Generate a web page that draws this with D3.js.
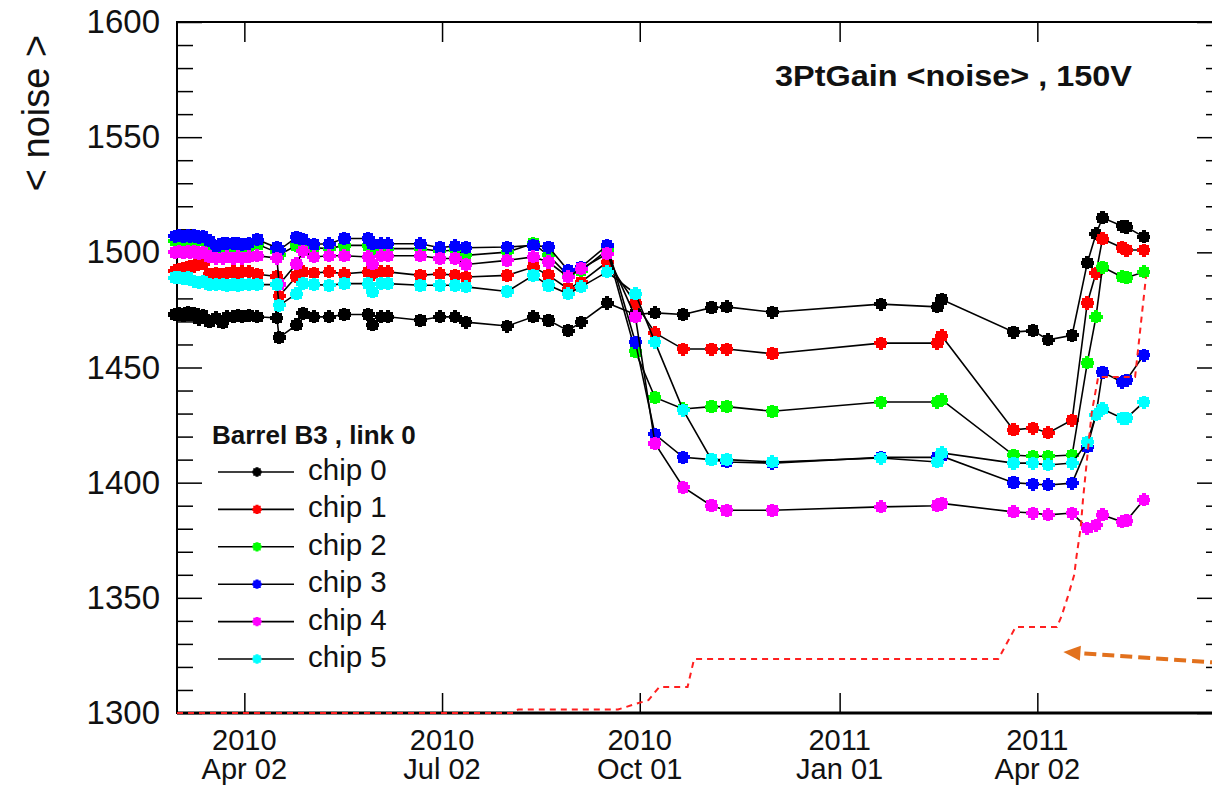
<!DOCTYPE html>
<html>
<head>
<meta charset="utf-8">
<script src="https://cdn.jsdelivr.net/npm/d3@7"></script>
<style>
body { margin: 0; background: #fff; }
svg { display: block; font-family: "Liberation Sans", Arial, sans-serif; }
</style>
</head>
<body>
<div id="chart"></div>
<script>
// measurement dates (shared by all chips)
var dates = ["2010-03-01","2010-03-03","2010-03-05","2010-03-07","2010-03-08","2010-03-10","2010-03-12","2010-03-14",
  "2010-03-17","2010-03-20","2010-03-23","2010-03-25","2010-03-28","2010-03-30","2010-04-01","2010-04-04",
  "2010-04-08","2010-04-17","2010-04-18","2010-04-26","2010-04-29","2010-05-04","2010-05-11","2010-05-18",
  "2010-05-29","2010-05-31","2010-06-04","2010-06-07","2010-06-22","2010-07-01","2010-07-08","2010-07-13",
  "2010-08-01","2010-08-13","2010-08-20","2010-08-29","2010-09-04","2010-09-16","2010-09-29","2010-10-08",
  "2010-10-21","2010-11-03","2010-11-10","2010-12-01","2011-01-20","2011-02-15","2011-02-17","2011-03-22",
  "2011-03-31","2011-04-07","2011-04-18","2011-04-25","2011-04-29","2011-05-02","2011-05-11","2011-05-13","2011-05-21"];

var chip0 = [1473,1473.5,1472.5,1474,1473,1473.5,1471,1472.5,
  1470,1471.5,1469.5,1472,1472,1472.5,1472,1472.5,
  1472,1471.5,1463,1468.5,1473.5,1472,1472,1473,
  1473,1468.5,1472,1472,1470.5,1472,1472,1469.7,
  1468,1472,1470.5,1466,1469.7,1478,1473,1473.7,
  1473,1476,1476.3,1474,1477.5,1476.3,1479.5,1465.4,
  1466,1462,1464,1495.4,1508,1515,1511.4,1511,1506.7];
var chip1 = [1492,1492.5,1493,1493.5,1494,1494,1495,1495,
  1490.5,1491,1490.5,1491,1491.5,1491,1491.5,1491.5,
  1490.5,1489.5,1481,1489.5,1491.5,1491,1491.5,1490.7,
  1491.5,1490.5,1491.5,1491.5,1490,1490.7,1490,1489.3,
  1490,1493.6,1490,1484.2,1487.1,1495.8,1478,1465,
  1458,1458,1458,1456,1460.6,1460.6,1463.7,1422.9,
  1423.7,1421.6,1427.2,1478,1491,1505.8,1502,1501,1501];
var chip2 = [1505,1505,1504.5,1505,1505,1504.5,1505.5,1505,
  1502.5,1502,1502,1502.5,1502,1502.5,1502,1502.5,
  1503.5,1500,1499,1503,1504,1502,1501.6,1503,
  1503,1501.5,1501.5,1501.6,1501.6,1500.5,1501,1498.7,
  1500.1,1503.8,1498.7,1490,1492,1501,1457,1437,
  1432,1433,1433,1431,1435,1435,1435.9,1412,
  1411.5,1411.5,1412,1452,1472,1493.6,1489.3,1489,1491.5];
var chip3 = [1507,1507.5,1507,1507.5,1507,1507.5,1506.5,1507,
  1505,1502.5,1504,1503.7,1504,1504,1503.5,1504,
  1505.5,1502,1501,1506.5,1505.5,1503.5,1503.7,1506,
  1506,1503.7,1503.7,1503.7,1503.7,1502,1502.8,1502,
  1502.3,1503,1502.3,1492.2,1493.6,1503,1461,1421,
  1411,1410,1409,1408.5,1411,1411,1411.5,1400,
  1399.4,1399,1399.8,1415.5,1429.4,1448,1443.7,1444.5,1455.4];
var chip4 = [1500,1500.5,1500,1500.5,1500,1500.5,1499.5,1500,
  1498,1497.5,1497.5,1498,1497.5,1498,1497.5,1498,
  1498.5,1497.5,1486,1495,1500.5,1498,1498.5,1498.5,
  1498,1495,1498.5,1498.5,1498.5,1497.3,1497.3,1494.7,
  1496.5,1498,1495.8,1489.3,1492.9,1499.4,1472,1417,
  1398,1390,1388,1388,1389.5,1390,1391,1387.3,
  1386.8,1386,1386.8,1380.3,1381.6,1386,1383,1383.5,1392.5];
var chip5 = [1489,1489,1488.5,1489,1488,1487.5,1487,1487.5,
  1486,1486,1486,1485.5,1486,1485.5,1486,1486,
  1486,1486,1477,1482,1486.5,1486,1485.7,1486.4,
  1486.4,1482.8,1486.4,1486.4,1485.7,1485.7,1485.7,1485,
  1483,1490,1485.7,1482,1485,1491.5,1482,1461,
  1431.5,1410,1410,1409,1410.7,1409,1412.9,1408.5,
  1408.5,1407.7,1408.5,1417.6,1429.4,1432,1428,1428,1435];

var chipNames = ["chip 0","chip 1","chip 2","chip 3","chip 4","chip 5"];
var chipColors = ["#000000","#ff0000","#00ff00","#0000ff","#ff00ff","#00ffff"];

// red dashed reference curve
var refDates = ["2010-03-02","2010-08-04","2010-08-06","2010-09-21","2010-09-29","2010-10-05","2010-10-10","2010-10-23",
  "2010-10-26","2011-03-15","2011-03-23","2011-04-11","2011-04-13","2011-04-16","2011-04-19","2011-04-20",
  "2011-04-22","2011-04-23","2011-04-27","2011-04-30","2011-05-17","2011-05-22"];
var refValues = [1300,1300,1301.5,1301.5,1303.9,1305.6,1311.3,1311.3,
  1323.4,1323.4,1337.3,1337.3,1341.7,1350.4,1360,1367.8,
  1380.8,1392.5,1430.2,1445.9,1445.9,1489.3];

// orange arrow (tail, head) as [date, value]
var arrowPts = [["2011-06-26",1321.7],["2011-04-14",1326.5]];

var xTickDates = ["2010-04-02","2010-07-02","2010-10-01","2011-01-01","2011-04-02"];
var yTicks = [1300,1350,1400,1450,1500,1550,1600];

var parse = d3.utcParse("%Y-%m-%d");

window.app = {
    init: function () {
        var W = 1212, H = 787;
        var left = 177, top = 22, right = 1222, bottom = 713;

        var x = d3.scaleUtc()
            .domain([parse("2010-03-02"), parse("2011-06-26")])
            .range([left, right]);
        var y = d3.scaleLinear()
            .domain([1300, 1600])
            .range([bottom, top]);

        var svg = d3.select("#chart").append("svg")
            .attr("width", W)
            .attr("height", H);

        var minor = d3.range(1300, 1601, 10).filter(function (v) { return v % 50 !== 0; });
        var xt = xTickDates.map(parse);

        // axes (ticks point inward like ROOT)
        var drawAxis = function (axis, tx, ty) {
            var g = svg.append("g")
                .attr("transform", "translate(" + tx + "," + ty + ")")
                .call(axis);
            g.select(".domain").remove();
            g.selectAll(".tick line").attr("stroke", "#000").attr("stroke-width", 1.5);
            return g;
        };

        var yAxis = drawAxis(d3.axisLeft(y).tickValues(yTicks).tickSize(-25).tickPadding(17)
            .tickFormat(d3.format("d")), left, 0);
        yAxis.selectAll(".tick text")
            .attr("font-size", 33)
            .attr("fill", "#111")
            .attr("font-family", "Liberation Sans, Arial, sans-serif");
        drawAxis(d3.axisLeft(y).tickValues(minor).tickSize(-16).tickFormat(""), left, 0);
        drawAxis(d3.axisRight(y).tickValues(yTicks).tickSize(-25).tickFormat(""), right, 0);
        drawAxis(d3.axisRight(y).tickValues(minor).tickSize(-16).tickFormat(""), right, 0);
        drawAxis(d3.axisBottom(x).tickValues(xt).tickSize(-20).tickFormat(""), 0, bottom);
        drawAxis(d3.axisTop(x).tickValues(xt).tickSize(-20).tickFormat(""), 0, top);

        // two line date labels
        var xl = svg.append("g")
            .attr("font-size", 29)
            .attr("fill", "#111")
            .attr("text-anchor", "middle");
        xl.selectAll(".yr").data(xt).enter().append("text")
            .attr("x", function (d) { return x(d); })
            .attr("y", 750)
            .text(d3.utcFormat("%Y"));
        xl.selectAll(".md").data(xt).enter().append("text")
            .attr("x", function (d) { return x(d); })
            .attr("y", 779)
            .text(d3.utcFormat("%b %d"));

        // frame
        svg.append("rect")
            .attr("x", left).attr("y", top)
            .attr("width", right - left).attr("height", bottom - top)
            .attr("fill", "none")
            .attr("stroke", "#000")
            .attr("stroke-width", 2);
        svg.append("line")
            .attr("x1", left).attr("x2", right)
            .attr("y1", bottom).attr("y2", bottom)
            .attr("stroke", "#000")
            .attr("stroke-width", 3);

        // marker: filled square with small bumps
        var marker = function (s) {
            var a = 2 * s, b = 5 * s, c = 6.2 * s;
            return "M" + -a + "," + -c + "L" + a + "," + -c + "L" + a + "," + -b + "L" + b + "," + -b +
                   "L" + b + "," + -a + "L" + c + "," + -a + "L" + c + "," + a + "L" + b + "," + a +
                   "L" + b + "," + b + "L" + a + "," + b + "L" + a + "," + c + "L" + -a + "," + c +
                   "L" + -a + "," + b + "L" + -b + "," + b + "L" + -b + "," + a + "L" + -c + "," + a +
                   "L" + -c + "," + -a + "L" + -b + "," + -a + "L" + -b + "," + -b + "L" + -a + "," + -b + "Z";
        };

        var chips = [chip0, chip1, chip2, chip3, chip4, chip5].map(function (vals, i) {
            return {
                name: chipNames[i],
                color: chipColors[i],
                points: vals.map(function (v, j) { return { date: parse(dates[j]), value: v }; })
            };
        });

        var line = d3.line()
            .x(function (d) { return x(d.date); })
            .y(function (d) { return y(d.value); });

        var plot = svg.append("g");
        chips.forEach(function (chip) {
            var g = plot.append("g");
            g.append("path")
                .attr("d", line(chip.points))
                .attr("fill", "none")
                .attr("stroke", "#000")
                .attr("stroke-width", 1.6);
            g.selectAll("path.m").data(chip.points).enter()
                .append("path")
                .attr("class", "m")
                .attr("d", marker(1.05))
                .attr("fill", chip.color)
                .attr("shape-rendering", "crispEdges")
                .attr("transform", function (d) {
                    return "translate(" + x(d.date) + "," + y(d.value) + ")";
                });
        });

        // reference curve
        var ref = refDates.map(function (d, i) { return { date: parse(d), value: refValues[i] }; });
        svg.append("path")
            .attr("d", line(ref))
            .attr("fill", "none")
            .attr("stroke", "#ff2020")
            .attr("stroke-width", 2)
            .attr("stroke-dasharray", "6,5");

        // orange arrow
        var x0 = x(parse(arrowPts[0][0])), y0 = y(arrowPts[0][1]);
        var x1 = x(parse(arrowPts[1][0])), y1 = y(arrowPts[1][1]);
        var ang = Math.atan2(y1 - y0, x1 - x0);
        var hl = 17, hw = 7.5;
        var bx = x1 - hl * Math.cos(ang), by = y1 - hl * Math.sin(ang);
        svg.append("line")
            .attr("x1", x0).attr("y1", y0)
            .attr("x2", bx).attr("y2", by)
            .attr("stroke", "#e2711d")
            .attr("stroke-width", 4)
            .attr("stroke-dasharray", "12,6");
        svg.append("path")
            .attr("d", "M" + x1 + "," + y1 +
                "L" + (bx + hw * Math.sin(ang)) + "," + (by - hw * Math.cos(ang)) +
                "L" + (bx - hw * Math.sin(ang)) + "," + (by + hw * Math.cos(ang)) + "Z")
            .attr("fill", "#e2711d");

        // legend
        var leg = svg.append("g");
        leg.append("text")
            .attr("x", 212).attr("y", 444)
            .attr("font-size", 26)
            .attr("font-weight", "bold")
            .attr("fill", "#111")
            .text("Barrel B3 , link 0");
        var items = leg.selectAll("g.item").data(chips).enter()
            .append("g")
            .attr("class", "item")
            .attr("transform", function (d, i) { return "translate(0," + (480 + i * 37.4) + ")"; });
        items.append("line")
            .attr("x1", 218).attr("x2", 294)
            .attr("y1", -8).attr("y2", -8)
            .attr("stroke", "#000")
            .attr("stroke-width", 1.6);
        items.append("path")
            .attr("d", marker(0.75))
            .attr("transform", "translate(257,-8)")
            .attr("fill", function (d) { return d.color; });
        items.append("text")
            .attr("x", 308).attr("y", 0)
            .attr("font-size", 29.5)
            .attr("fill", "#111")
            .text(function (d) { return d.name; });

        // title and axis title
        svg.append("text")
            .attr("x", 775).attr("y", 86)
            .attr("font-size", 30)
            .attr("font-weight", "bold")
            .attr("fill", "#111")
            .attr("textLength", 357)
            .attr("lengthAdjust", "spacingAndGlyphs")
            .text("3PtGain <noise> , 150V");
        svg.append("text")
            .attr("transform", "translate(49,113) rotate(-90)")
            .attr("text-anchor", "middle")
            .attr("font-size", 38)
            .attr("fill", "#111")
            .text("< noise >");
    }
};

window.app.init();
</script>
</body>
</html>
